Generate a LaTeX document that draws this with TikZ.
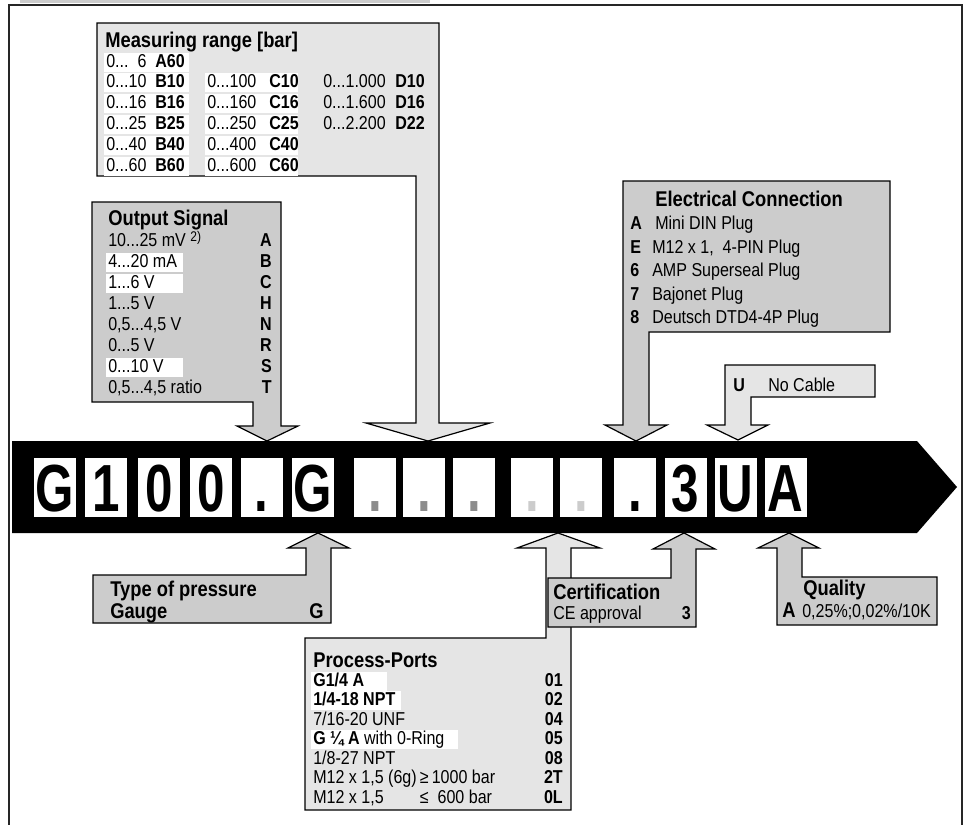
\documentclass[tikz,border=0pt]{standalone}
\usepackage{fontspec}
\setmainfont{Liberation Sans}[FakeStretch=0.86]
\newfontfamily\digitface{Liberation Sans}[FakeStretch=0.74]
\usepackage{xcolor}
\usepackage{tikz}
\usetikzlibrary{positioning}

\definecolor{boxlight}{gray}{0.9}
\definecolor{boxdark}{gray}{0.8}
\definecolor{dotgray}{gray}{0.55}
\definecolor{dotlight}{gray}{0.8}
\newcommand{\lstfont}{\fontsize{14}{15}\selectfont}
\newcommand{\hdfont}{\fontsize{16}{17}\selectfont\bfseries}

\begin{document}
\begin{tikzpicture}[x=0.75pt,y=-0.75pt,
  callout/.style={draw=black,line width=0.9pt,line join=miter},
  lst/.style={anchor=base west,inner xsep=1.5pt,inner ysep=0pt,font=\lstfont},
  hl/.style={fill=white,text height=10.8pt,text depth=3.5pt},
  hd/.style={anchor=base west,inner sep=0pt,font=\hdfont},
  cd/.style={anchor=base east,inner sep=0pt,font=\lstfont\bfseries},
  glyphbox/.style={fill=white,minimum width=31.5pt,minimum height=44.25pt,inner sep=0pt,
    text height=35.8pt,text depth=0pt,font=\digitface\bfseries\fontsize{50}{50}\selectfont}]
  \useasboundingbox (0,0) rectangle (965,825);
  % frame and top strip
  \fill[gray!40] (20,0) rectangle (430,2.5);
  \draw[line width=1pt,black!85] (9,825) -- (9,5) -- (962,5) -- (962,825);

  % order code bar
  \fill[black] (12,441) -- (917,441) -- (957,487) -- (917,533) -- (12,533) -- cycle;
  \node[glyphbox] (g1) at (55,487.5) {G};
  \node[glyphbox] (g2) at (106,487.5) {1};
  \node[glyphbox] (g3) at (159,487.5) {0};
  \node[glyphbox] (g4) at (211,487.5) {0};
  \node[glyphbox] (g5) at (261.5,487.5) {.};
  \node[glyphbox] (g6) at (312.5,487.5) {G};
  \node[glyphbox,text=dotgray] (g7) at (375,487.5) {.};
  \node[glyphbox,text=dotgray] (g8) at (424,487.5) {.};
  \node[glyphbox,text=dotgray] (g9) at (474,487.5) {.};
  \node[glyphbox,text=dotlight] (g10) at (532,487.5) {.};
  \node[glyphbox,text=dotlight] (g11) at (581,487.5) {.};
  \node[glyphbox] (g12) at (635,487.5) {.};
  \node[glyphbox] (g13) at (685.5,487.5) {3};
  \node[glyphbox] (g14) at (735.5,487.5) {U};
  \node[glyphbox] (g15) at (785.5,487.5) {A};

  % measuring range
  \draw[callout,fill=boxlight] (97,23) -- (439,23) -- (439,423) -- (490,423) -- (428,441)
    -- (366,423) -- (416,423) -- (416,176) -- (97,176) -- cycle;
  \node[hd] (range) at (105,47.5) {Measuring range [bar]};
  \node[lst,hl] (r6) at (104,67) {\makebox[60.75pt][l]{0...\phantom{1}6}};
  \node[lst,hl] (r10) at (104,87.8) {\makebox[60.75pt][l]{0...10}};
  \node[lst,hl] (r16) at (104,108.6) {\makebox[60.75pt][l]{0...16}};
  \node[lst,hl] (r25) at (104,129.4) {\makebox[60.75pt][l]{0...25}};
  \node[lst,hl] (r40) at (104,150.2) {\makebox[60.75pt][l]{0...40}};
  \node[lst,hl] (r60) at (104,171) {\makebox[60.75pt][l]{0...60}};
  \node[cd,anchor=base west] (A60) at (155,67) {A60};
  \node[cd,anchor=base west] (B10) at (155,87.8) {B10};
  \node[cd,anchor=base west] (B16) at (155,108.6) {B16};
  \node[cd,anchor=base west] (B25) at (155,129.4) {B25};
  \node[cd,anchor=base west] (B40) at (155,150.2) {B40};
  \node[cd,anchor=base west] (B60) at (155,171) {B60};
  \node[lst,hl] (r100) at (205,87.8) {\makebox[66.75pt][l]{0...100}};
  \node[lst,hl] (r160) at (205,108.6) {\makebox[66.75pt][l]{0...160}};
  \node[lst,hl] (r250) at (205,129.4) {\makebox[66.75pt][l]{0...250}};
  \node[lst,hl] (r400) at (205,150.2) {\makebox[66.75pt][l]{0...400}};
  \node[lst,hl] (r600) at (205,171) {\makebox[66.75pt][l]{0...600}};
  \node[cd,anchor=base west] (C10) at (269,87.8) {C10};
  \node[cd,anchor=base west] (C16) at (269,108.6) {C16};
  \node[cd,anchor=base west] (C25) at (269,129.4) {C25};
  \node[cd,anchor=base west] (C40) at (269,150.2) {C40};
  \node[cd,anchor=base west] (C60) at (269,171) {C60};
  \node[lst] (r1000) at (321,87.8) {0...1.000};
  \node[lst] (r1600) at (321,108.6) {0...1.600};
  \node[lst] (r2200) at (321,129.4) {0...2.200};
  \node[cd,anchor=base west] (D10) at (395,87.8) {D10};
  \node[cd,anchor=base west] (D16) at (395,108.6) {D16};
  \node[cd,anchor=base west] (D22) at (395,129.4) {D22};

  % output signal
  \draw[callout,fill=boxdark] (92,202) -- (281,202) -- (281,426) -- (298,426) -- (267,441)
    -- (237,426) -- (253,426) -- (253,402) -- (92,402) -- cycle;
  \node[hd] (output) at (108,225.5) {Output Signal};
  \node[lst] (sA) at (106,246) {10...25 mV \raisebox{3.5pt}{\fontsize{10.5}{10}\selectfont 2)}};
  \node[lst,hl] (sB) at (106,267) {\makebox[54.75pt][l]{4...20 mA}};
  \node[lst,hl] (sC) at (106,288) {\makebox[54.75pt][l]{1...6 V}};
  \node[lst] (sH) at (106,309) {1...5 V};
  \node[lst] (sN) at (106,330) {0,5...4,5 V};
  \node[lst] (sR) at (106,351) {0...5 V};
  \node[lst,hl] (sS) at (106,372) {\makebox[54.75pt][l]{0...10 V}};
  \node[lst] (sT) at (106,393) {0,5...4,5 ratio};
  \node[cd] at (272,246) {A};
  \node[cd] at (272,267) {B};
  \node[cd] at (272,288) {C};
  \node[cd] at (272,309) {H};
  \node[cd] at (272,330) {N};
  \node[cd] at (272,351) {R};
  \node[cd] at (272,372) {S};
  \node[cd] at (272,393) {T};

  % electrical connection
  \draw[callout,fill=boxdark] (623,181) -- (890,181) -- (890,332) -- (649,332) -- (649,425)
    -- (667,425) -- (636,441) -- (605,425) -- (623,425) -- cycle;
  \node[hd] (elec) at (655,206.5) {Electrical Connection};
  \node[cd,anchor=base west] (eA) at (630,229.5) {A};
  \node[cd,anchor=base west] (eE) at (630,253) {E};
  \node[cd,anchor=base west] (e6) at (630,276.5) {6};
  \node[cd,anchor=base west] (e7) at (630,300) {7};
  \node[cd,anchor=base west] (e8) at (630,323.5) {8};
  \node[lst] at (653,229.5) {Mini DIN Plug};
  \node[lst] at (650,253) {M12 x 1,\ \ 4-PIN Plug};
  \node[lst] at (650,276.5) {AMP Superseal Plug};
  \node[lst] at (650,300) {Bajonet Plug};
  \node[lst] at (650,323.5) {Deutsch DTD4-4P Plug};

  % cable
  \draw[callout,fill=boxlight] (725,365) -- (875,365) -- (875,397) -- (751,397) -- (751,425)
    -- (768,425) -- (738,440) -- (707,425) -- (725,425) -- cycle;
  \node[cd,anchor=base west] (cU) at (733,391) {U};
  \node[lst] (cable) at (766,391) {No Cable};

  % type of pressure gauge
  \draw[callout,fill=boxdark] (93,575) -- (306,575) -- (306,548) -- (288,548) -- (318,533)
    -- (349,548) -- (331,548) -- (331,623) -- (93,623) -- cycle;
  \node[hd] (type) at (110,596.5) {Type of pressure};
  \node[hd] (gauge) at (110,618.5) {Gauge};
  \node[hd,anchor=base east] (tG) at (324,618.5) {G};

  % process ports
  \draw[callout,fill=boxlight] (305,638) -- (546,638) -- (546,548) -- (517,548) -- (558,533)
    -- (600,548) -- (571,548) -- (571,810) -- (305,810) -- cycle;
  \node[hd] (ports) at (313,667.5) {Process-Ports};
  \node[lst,hl] (p01) at (311,686) {\makebox[54pt][l]{\bfseries G1/4 A}};
  \node[lst,hl] (p02) at (311,705.5) {\makebox[64.5pt][l]{\bfseries 1/4-18 NPT}};
  \node[lst] (p04) at (311,725) {7/16-20 UNF};
  \node[lst,hl] (p05) at (311,744.5) {\makebox[107.25pt][l]{\textbf{G ¼ A} with 0-Ring}};
  \node[lst] (p08) at (311,764) {1/8-27 NPT};
  \node[lst] (p2T) at (311,783.5) {M12 x 1,5 (6g)\,≥\,1000 bar};
  \node[lst] (p0L) at (311,803) {M12 x 1,5\phantom{ (6g)}\,≤\ \ 600 bar};
  \node[cd] at (563,686) {01};
  \node[cd] at (563,705.5) {02};
  \node[cd] at (563,725) {04};
  \node[cd] at (563,744.5) {05};
  \node[cd] at (563,764) {08};
  \node[cd] at (563,783.5) {2T};
  \node[cd] at (563,803) {0L};

  % certification
  \draw[callout,fill=boxdark] (548,578) -- (671,578) -- (671,549) -- (653,549) -- (684,533)
    -- (715,549) -- (696,549) -- (696,627) -- (548,627) -- cycle;
  \node[hd] (cert) at (553,599.5) {Certification};
  \node[lst] (ce) at (551,619) {CE approval};
  \node[cd] (c3) at (691,619) {3};

  % quality
  \draw[callout,fill=boxdark] (777,548) -- (758,548) -- (789,533) -- (819,548) -- (802,548)
    -- (802,577) -- (937,577) -- (937,625) -- (777,625) -- cycle;
  \node[hd] (quality) at (803,595.5) {Quality};
  \node[hd] (qA) at (782,617.5) {A};
  \node[lst] (qval) at (800,617.5) {0,25\%;0,02\%/10K};
\end{tikzpicture}
\end{document}
